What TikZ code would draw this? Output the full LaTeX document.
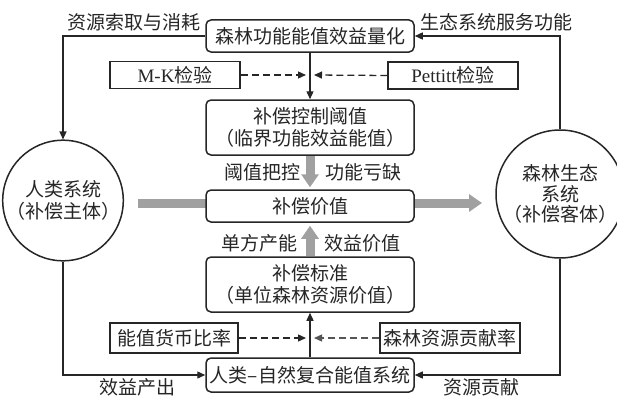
\documentclass[tikz,border=0pt]{standalone}
\usepackage{fontspec}
\setmainfont{Noto Sans CJK SC}
\newfontfamily\latinserif{Liberation Serif}
\usetikzlibrary{arrows.meta}
\definecolor{ln}{HTML}{262626}
\definecolor{fat}{HTML}{A0A0A0}
\definecolor{dashgray}{HTML}{555555}
\begin{document}
\begin{tikzpicture}[x=1pt,y=-1pt,
  txt/.style={font=\fontsize{19}{22.5}\selectfont, text=ln},
  box/.style={txt, draw=ln, line width=1.5pt, rounded corners=5pt, fill=white,
    minimum width=208pt, align=center, inner sep=0pt},
  sbox/.style={txt, draw=ln, line width=1.5pt, fill=white, minimum height=28pt, inner sep=0pt, align=center},
  circ/.style={txt, draw=ln, line width=1.5pt, circle, fill=white, align=center, inner sep=0pt},
  conn/.style={draw=ln, line width=1.3pt, -{Triangle[length=8pt,width=7pt]}},
  dconn/.style={draw=ln, line width=1.3pt, dash pattern=on 7pt off 4pt, -{Triangle[length=8pt,width=7pt]}},
  fatarrow/.style={draw=fat, line width=9pt, -{Triangle[length=13pt,width=17pt]}},
  lbl/.style={txt, inner sep=0pt}
]
\useasboundingbox (0,0) rectangle (617,396);

% coordinates for thick gray arrow
\coordinate (hs) at (138,203);
\coordinate (he) at (482,203);
\draw[fatarrow] (hs) -- (he);

% boxes
\node[box, minimum height=32pt] (top) at (310,36) {森林功能能值效益量化};
\node[sbox, minimum width=130pt, minimum height=27pt] (mk) at (175,75) {{\latinserif M-K}检验};
\node[sbox, minimum width=130pt, minimum height=27pt] (pet) at (453,75.5) {{\latinserif Pettitt}检验};
\node[box, minimum height=55pt] (thr) at (310,127.5) {补偿控制阈值\\（临界功能效益能值）};
\node[box, minimum height=32pt] (val) at (310,206) {补偿价值};
\node[box, minimum height=55pt] (std) at (310,284.5) {补偿标准\\（单位森林资源价值）};
\node[box, minimum height=34pt] (bot) at (310,375) {人类–自然复合能值系统};
\node[sbox, minimum width=128pt, minimum height=30pt] (emr) at (174,338) {能值货币比率};
\node[sbox, minimum width=140pt, minimum height=30pt] (fcr) at (450,338) {森林资源贡献率};

\node[circ, minimum size=111pt] (hum) at (63,200.5) {人类系统\\（补偿主体）};
\node[circ, minimum size=104pt, font=\fontsize{19}{20.5}\selectfont] (for) at (560,194) {森林生态\\系统\\（补偿客体）};

% gray vertical arrows
\draw[fatarrow, shorten >=2pt] (thr.south) -- (val.north);
\draw[fatarrow, shorten >=3pt] (std.north) -- (val.south);

% thin connectors
\coordinate (mkend) at (306,75);
\coordinate (petend) at (314,75);
\coordinate (emrend) at (306,338);
\coordinate (fcrend) at (314,338);
\draw[conn] (top.south) -- (thr.north);
\draw[dconn] (mk.east) -- (mkend);
\draw[dconn] (pet.west) -- (petend);
\draw[conn] (bot.north) -- (std.south);
\draw[dconn] (emr.east) -- (emrend);
\draw[dconn, draw=dashgray] (fcr.west) -- (fcrend);

\draw[conn] (top.west) -| (hum.north);
\draw[conn] (for.north) |- (top.east);
\draw[conn] (hum.south) |- (bot.west);
\draw[conn] (for.south) |- (bot.east);

% labels
\node[lbl] (l1) at (134,22) {资源索取与消耗};
\node[lbl] (l2) at (496,22) {生态系统服务功能};
\node[lbl] (l3) at (262,172) {阈值把控};
\node[lbl] (l4) at (363,172) {功能亏缺};
\node[lbl] (l5) at (259,243) {单方产能};
\node[lbl] (l6) at (362,243) {效益价值};
\node[lbl] (l7) at (137,387) {效益产出};
\node[lbl] (l8) at (481,387) {资源贡献};
\end{tikzpicture}
\end{document}
